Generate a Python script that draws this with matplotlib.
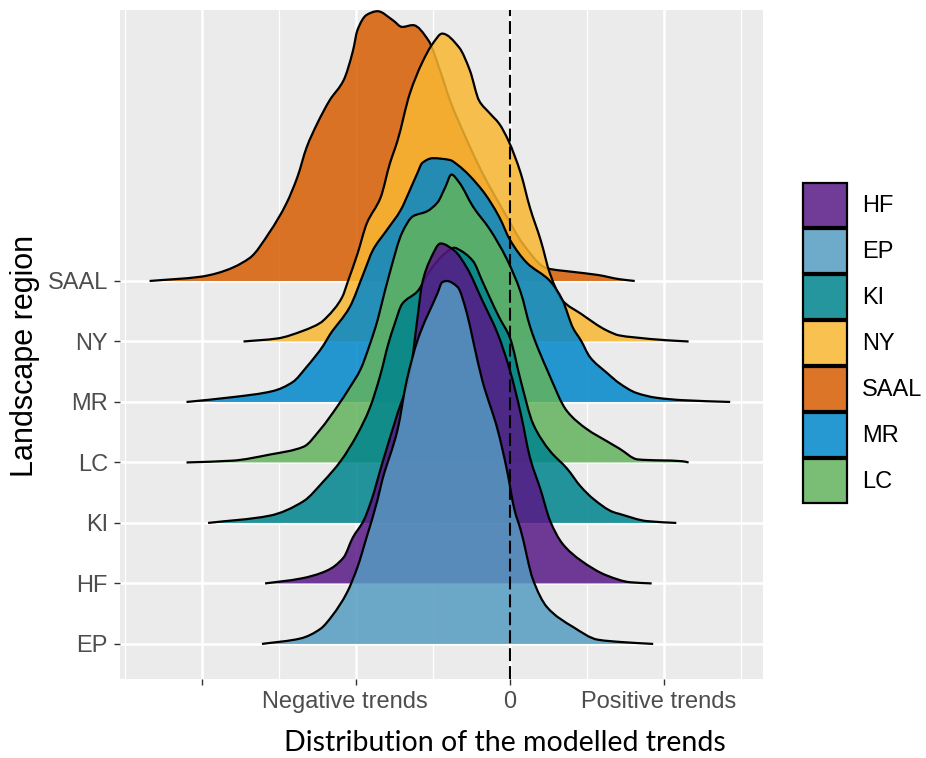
import numpy as np
import matplotlib
matplotlib.use("Agg")
import matplotlib.pyplot as plt
from matplotlib.patches import Patch, PathPatch
from matplotlib.path import Path
from matplotlib.colors import to_rgba
import matplotlib.transforms as mtransforms

plt.rcParams['font.family'] = ['Liberation Sans', 'DejaVu Sans']

# ---------------- data ----------------
regions = ['EP', 'HF', 'KI', 'LC', 'MR', 'NY', 'SAAL']          # bottom -> top
legend_order = ['HF', 'EP', 'KI', 'NY', 'SAAL', 'MR', 'LC']
colors = {
    'HF': '#581886', 'EP': '#559bc1', 'KI': '#00848d', 'NY': '#f8b731',
    'SAAL': '#d65d01', 'MR': '#0087ca', 'LC': '#63b35e',
}

saal_x = [-2.34, -2.01, -1.90, -1.69, -1.56, -1.45, -1.38, -1.32, -1.25, -1.17, -1.08, -1.02,
          -0.99, -0.93, -0.86, -0.76, -0.70, -0.63, -0.53, -0.45, -0.39, -0.28, -0.18, -0.02,
          0.08, 0.24, 0.41, 0.57, 0.71, 0.81]
saal_h = [0, 0.07, 0.13, 0.38, 0.81, 1.29, 1.72, 2.21, 2.61, 2.99, 3.32, 3.80,
          4.15, 4.40, 4.46, 4.31, 4.20, 4.23, 3.98, 3.45, 2.99, 2.33, 1.79, 1.06,
          0.63, 0.21, 0.15, 0.10, 0.03, 0]

ny_x = [-1.73, -1.51, -1.34, -1.23, -1.19, -1.09, -1.05, -0.99, -0.93, -0.84, -0.78, -0.73,
        -0.65, -0.57, -0.50, -0.44, -0.33, -0.26, -0.20, -0.13, -0.07, -0.01, 0.07, 0.13,
        0.20, 0.26, 0.34, 0.46, 0.63, 0.71, 0.80, 1.02, 1.16]
ny_h = [0, 0.05, 0.18, 0.31, 0.40, 0.73, 1.01, 1.45, 1.95, 2.38, 2.94, 3.32,
        4.10, 4.61, 4.93, 5.09, 4.86, 4.48, 3.98, 3.77, 3.60, 3.32, 2.78, 2.21,
        1.67, 1.12, 0.68, 0.46, 0.18, 0.10, 0.07, 0.02, 0]

mr_x = [-2.10, -1.80, -1.54, -1.41, -1.32, -1.21, -1.17, -1.04, -0.95, -0.89, -0.80, -0.71,
        -0.65, -0.60, -0.57, -0.50, -0.39, -0.34, -0.18, -0.07, 0.00, 0.11, 0.26, 0.34,
        0.41, 0.46, 0.52, 0.63, 0.71, 0.82, 0.95, 1.12, 1.43]
mr_h = [0, 0.08, 0.18, 0.33, 0.58, 0.94, 1.11, 1.57, 2.13, 2.51, 2.84, 3.17,
        3.50, 3.79, 3.95, 4.03, 4.00, 3.92, 3.50, 3.06, 2.68, 2.30, 2.00, 1.69,
        1.22, 1.02, 0.74, 0.48, 0.31, 0.15, 0.07, 0.03, 0]

lc_x = [-2.10, -1.80, -1.56, -1.34, -1.23, -1.12, -1.04, -0.97, -0.91, -0.86, -0.84, -0.78,
        -0.70, -0.63, -0.54, -0.47, -0.42, -0.38, -0.33, -0.24, -0.13, -0.02, 0.07, 0.13,
        0.16, 0.24, 0.37, 0.50, 0.63, 0.71, 0.83, 1.12, 1.16]
lc_h = [0, 0.03, 0.13, 0.26, 0.55, 0.93, 1.24, 1.54, 1.95, 2.35, 2.55, 3.14,
        3.80, 4.07, 4.15, 4.30, 4.55, 4.76, 4.63, 4.23, 3.85, 3.36, 2.81, 2.25,
        2.03, 1.54, 0.85, 0.55, 0.35, 0.23, 0.05, 0.02, 0]

ki_x = [-1.96, -1.56, -1.34, -1.21, -1.10, -0.99, -0.91, -0.84, -0.79, -0.75, -0.70, -0.60,
        -0.52, -0.42, -0.36, -0.34, -0.24, -0.18, -0.13, -0.07, 0.00, 0.07, 0.15, 0.26,
        0.37, 0.46, 0.54, 0.67, 0.71, 0.89, 1.08]
ki_h = [0, 0.12, 0.36, 0.69, 1.02, 1.47, 1.90, 2.46, 2.96, 3.28, 3.62, 3.83,
        4.17, 4.46, 4.55, 4.53, 4.33, 4.00, 3.72, 3.40, 3.06, 2.35, 1.64, 1.19,
        0.90, 0.60, 0.40, 0.18, 0.15, 0.03, 0]

hf_x = [-1.59, -1.36, -1.19, -1.08, -1.02, -0.95, -0.90, -0.83, -0.73, -0.65, -0.60, -0.57,
        -0.52, -0.45, -0.36, -0.28, -0.18, -0.08, 0.00, 0.07, 0.13, 0.20, 0.26, 0.34,
        0.46, 0.63, 0.78, 0.92]
hf_h = [0, 0.08, 0.21, 0.43, 0.76, 1.04, 1.37, 1.98, 2.81, 3.45, 4.40, 4.96,
        5.34, 5.62, 5.50, 5.22, 4.68, 4.13, 3.52, 2.81, 2.08, 1.54, 1.04, 0.66,
        0.38, 0.13, 0.02, 0]

ep_x = [-1.61, -1.36, -1.23, -1.15, -1.06, -0.99, -0.93, -0.86, -0.83, -0.73, -0.67, -0.60,
        -0.47, -0.44, -0.41, -0.34, -0.28, -0.24, -0.18, -0.08, -0.02, 0.03, 0.07, 0.15,
        0.24, 0.41, 0.57, 0.73, 0.93]
ep_h = [0, 0.09, 0.25, 0.48, 0.84, 1.27, 1.77, 2.38, 2.70, 3.54, 4.36, 5.02,
        5.80, 5.98, 6.00, 5.90, 5.47, 5.02, 4.36, 3.54, 2.88, 2.21, 1.88, 1.06,
        0.61, 0.28, 0.07, 0.03, 0]

curves = {
    'EP': (ep_x, ep_h), 'HF': (hf_x, hf_h), 'KI': (ki_x, ki_h), 'LC': (lc_x, lc_h),
    'MR': (mr_x, mr_h), 'NY': (ny_x, ny_h), 'SAAL': (saal_x, saal_h),
}

x_ticks = [-2, -1, 0, 1]
x_ticklabels = ['', 'Negative trends', '0', 'Positive trends']
x_title = 'Distribution of the modelled trends'
y_title = 'Landscape region'


# ---------------- helpers: smooth (monotone cubic) rendering of read points ----------------
def _slopes(x, y):
    h = np.diff(x)
    d = np.diff(y) / h
    m = np.zeros_like(y)
    m[0], m[-1] = d[0], d[-1]
    for k in range(1, len(x) - 1):
        if d[k - 1] * d[k] <= 0:
            m[k] = 0.0
        else:
            w1 = 2 * h[k] + h[k - 1]
            w2 = h[k] + 2 * h[k - 1]
            m[k] = (w1 + w2) / (w1 / d[k - 1] + w2 / d[k])
    return m


def smooth_path(x, y, base=None):
    x = np.asarray(x, float)
    y = np.asarray(y, float)
    m = _slopes(x, y)
    verts = [(x[0], y[0])]
    codes = [Path.MOVETO]
    for k in range(len(x) - 1):
        h = x[k + 1] - x[k]
        verts += [(x[k] + h / 3, y[k] + m[k] * h / 3),
                  (x[k + 1] - h / 3, y[k + 1] - m[k + 1] * h / 3),
                  (x[k + 1], y[k + 1])]
        codes += [Path.CURVE4] * 3
    if base is not None:
        verts += [(x[-1], base), (x[0], base), (x[0], y[0])]
        codes += [Path.LINETO, Path.LINETO, Path.CLOSEPOLY]
    return Path(verts, codes)


# ---------------- figure ----------------
W, H = 926, 758
fig = plt.figure(figsize=(W / 100, H / 100), dpi=100)
ax = fig.add_axes([120 / W, 1 - 679 / H, (763 - 120) / W, (679 - 10) / H])
ax.set_facecolor('#ebebeb')
for s in ax.spines.values():
    s.set_visible(False)

ALPHA = 0.85
n = len(regions)
for i, reg in enumerate(regions):
    pos = i + 1
    xs, hs = curves[reg]
    top = pos + np.asarray(hs, float)
    z = 10 + (n - i) * 2
    ax.add_patch(PathPatch(smooth_path(xs, top, base=pos),
                           facecolor=to_rgba(colors[reg], ALPHA), lw=0, zorder=z))
    ax.add_patch(PathPatch(smooth_path(xs, top), facecolor='none', edgecolor='black',
                           lw=1.6, zorder=z + 1, joinstyle='round', capstyle='butt'))

ax.axvline(0, color='black', lw=1.5, ls=(0, (6.2, 2.4)), zorder=40)

ax.set_xlim(-2.532, 1.643)
ax.set_ylim(0.42, 11.48)

ax.set_xticks(x_ticks)
ax.set_xticklabels(x_ticklabels)
ax.set_xticks([-2.5, -1.5, -0.5, 0.5, 1.5], minor=True)
ax.set_yticks(range(1, n + 1))
ax.set_yticklabels(regions)

ax.grid(which='major', color='white', lw=1.8, zorder=0)
ax.grid(which='minor', axis='x', color='white', lw=0.9, zorder=0)
ax.set_axisbelow(True)

ax.tick_params(axis='both', which='major', length=4.3, width=1.0, color='#333333',
               labelcolor='#4d4d4d', labelsize=17, pad=4.5)
ax.tick_params(axis='both', which='minor', length=0)

offs = {'Negative trends': -11, 'Positive trends': -5}
for lab in ax.get_xticklabels():
    t = lab.get_text()
    if t in offs:
        lab.set_transform(lab.get_transform() +
                          mtransforms.ScaledTranslation(offs[t] / 100, 0, fig.dpi_scale_trans))

fig.text(505 / W, 1 - 751 / H, x_title, ha='center', va='baseline',
         fontsize=20.5, family=['Lato', 'DejaVu Sans'], color='black')
fig.text(25 / W, 1 - 356 / H, y_title, ha='center', va='center', rotation=90,
         fontsize=22, color='black')

handles = [Patch(facecolor=to_rgba(colors[k], ALPHA), edgecolor='black', lw=1.6)
           for k in legend_order]
LEG_FS = 17
box_pt = 44 * 72 / 100
hh = (box_pt / LEG_FS - 0.245) / 0.65
fig.legend(handles, legend_order, loc='upper left',
           bbox_to_anchor=(803 / W, 1 - 183 / H), frameon=False,
           borderpad=0, borderaxespad=0,
           handlelength=box_pt / LEG_FS, handleheight=hh,
           labelspacing=(2 * 72 / 100) / LEG_FS, handletextpad=(15 * 72 / 100) / LEG_FS,
           fontsize=LEG_FS)

fig.savefig('out.png', dpi=100)
